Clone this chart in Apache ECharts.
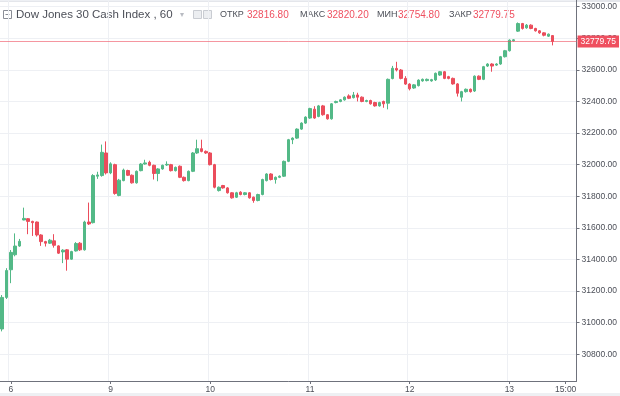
<!DOCTYPE html>
<html>
<head>
<meta charset="utf-8">
<script src="https://cdn.jsdelivr.net/npm/echarts@6/dist/echarts.min.js"></script>
<style>
html,body{margin:0;padding:0;background:#fff;}
#chart{width:620px;height:396px;}
</style>
</head>
<body>
<div id="chart"></div>
<script>
// ---- data ----
const title = 'Dow Jones 30 Cash Index , 60';
const headerLabels = ['ОТКР', 'МАКС', 'МИН', 'ЗАКР'];
const headerValues = ['32816.80', '32820.20', '32754.80', '32779.75'];
const lastPrice = 32779.75;

const days = ['5', '6', '9', '10', '11', '12', '13'];
const sessionHours = ['02:00','03:00','04:00','05:00','06:00','07:00','08:00','09:00','10:00','11:00','12:00',
  '13:00','14:00','15:00','16:00','17:00','18:00','19:00','20:00','21:00','22:00','23:00','00:00'];
const extraTimeLabel = '15:00';

const opens = [30960,31160,31335,31430,31485,31650,31658,31641,31637,31555,31513,31503,31518,31486,31448,31461,31402,31454,31503,31461,
  31637,31633,31927,31931,32074,31948,32000,31805,31899,31963,31933,31885,31962,32004,32015,31996,31944,31973,31998,32000,
  31962,31990,31920,31899,31958,32074,32101,32084,32074,32000,31836,31868,31853,31822,31794,31826,31811,31822,31794,31773,
  31811,31899,31941,31906,31920,31927,32021,32158,32168,32225,32263,32295,32351,32305,32372,32316,32290,32393,32400,32410,
  32435,32424,32441,32427,32400,32406,32393,32372,32400,32389,32545,32609,32599,32546,32510,32485,32500,32530,32532,32530,
  32536,32567,32588,32557,32546,32511,32427,32462,32477,32466,32560,32540,32624,32637,32630,32637,32683,32721,32784,32845,
  32893,32866,32883,32862,32847,32834,32813,32816.80];
const closes = [31160,31330,31445,31485,31515,31660,31641,31633,31555,31513,31503,31522,31490,31440,31459,31402,31450,31501,31461,31637,
  31625,31931,31935,32078,31948,32005,31818,31902,31966,31933,31885,31958,32004,32011,31996,31944,31973,31996,32002,31962,
  31983,31920,31899,31958,32074,32101,32084,32074,32000,31857,31857,31853,31822,31790,31822,31811,31822,31790,31773,31811,
  31906,31941,31906,31920,31927,32021,32158,32168,32225,32263,32301,32355,32295,32372,32316,32290,32385,32400,32410,32427,
  32420,32441,32427,32400,32406,32385,32372,32393,32385,32540,32610,32599,32546,32510,32480,32505,32535,32540,32540,32538,
  32578,32588,32546,32546,32511,32452,32462,32477,32462,32560,32540,32620,32637,32624,32637,32683,32721,32788,32790,32893,
  32862,32883,32862,32847,32834,32819,32826,32779.75];
const lows = [30945,31150,31250,31420,31480,31648,31560,31549,31545,31486,31482,31498,31475,31435,31377,31329,31398,31450,31454,31456,
  31618,31628,31910,31924,31938,31940,31810,31800,31895,31928,31880,31880,31958,32000,31990,31906,31895,31968,31992,31957,
  31957,31915,31893,31895,31953,32068,32078,32068,31995,31850,31830,31848,31817,31785,31789,31806,31806,31785,31759,31768,
  31806,31894,31900,31880,31915,31922,32016,32130,32163,32220,32258,32290,32290,32300,32310,32285,32285,32388,32395,32405,
  32415,32419,32400,32395,32395,32380,32367,32367,32360,32350,32540,32590,32540,32505,32470,32480,32495,32525,32527,32525,
  32530,32562,32541,32540,32506,32431,32400,32456,32456,32460,32535,32535,32618,32588,32625,32632,32678,32716,32779,32840,
  32855,32860,32857,32842,32828,32812,32808,32754.80];
const highs = [31175,31345,31460,31565,31530,31728,31662,31645,31640,31560,31518,31530,31560,31490,31465,31466,31455,31510,31510,31645,
  31760,31940,31955,32127,32147,32015,32006,31910,31975,31968,31938,31963,32010,32031,32025,32000,31978,32000,32021,32005,
  31988,31995,31925,31963,32080,32158,32158,32090,32080,32005,31862,31872,31858,31826,31828,31832,31827,31826,31798,31816,
  31911,31946,31946,31925,31932,32026,32163,32173,32230,32268,32306,32360,32370,32378,32378,32320,32390,32405,32415,32432,
  32445,32460,32455,32432,32411,32411,32398,32398,32405,32545,32625,32651,32605,32560,32515,32510,32540,32545,32545,32543,
  32583,32593,32593,32562,32551,32516,32467,32482,32482,32565,32565,32625,32642,32642,32642,32688,32726,32793,32795,32900,
  32897,32890,32888,32866,32852,32838,32830,32820.20];

// ---- categories (hourly bars, 23 per session) ----
const categories = [];
['23:00','00:00'].forEach(h => categories.push(days[0] + ' ' + h));
for (let d = 1; d < days.length - 1; d++) sessionHours.forEach(h => categories.push(days[d] + ' ' + h));
for (let k = 0; k < 16; k++) categories.push(days[days.length - 1] + ' ' + sessionHours[k]);

const candleData = opens.map((o, i) => [o, closes[i], lows[i], highs[i]]);

const isDayStart = v => v.split(' ')[1] === sessionHours[0];
const isExtra = v => v === days[days.length - 1] + ' ' + extraTimeLabel;

const UP = '#53b987', DOWN = '#eb4d5c';
const PRICE_LINE = 'rgba(239,80,96,0.6)';
const FONT = 'Liberation Sans, Arial, sans-serif';

const chart = echarts.init(document.getElementById('chart'), null, {renderer: 'canvas'});

const graphic = [
  {type: 'rect', shape: {x: 0, y: 0, width: 620, height: 2}, style: {fill: '#e4e6eb'}, silent: true},
  {type: 'rect', shape: {x: 0, y: 393, width: 620, height: 3}, style: {fill: '#eef0f3'}, silent: true},
  {type: 'rect', shape: {x: 3.5, y: 10.5, width: 8, height: 8}, style: {fill: 'none', stroke: '#8a8d96', lineWidth: 1}},
  {type: 'line', shape: {x1: 5.5, y1: 14.5, x2: 9.5, y2: 14.5}, style: {stroke: '#8a8d96', lineWidth: 1}},
  {type: 'text', x: 16, y: 15, style: {text: title, font: '11.5px ' + FONT, fill: '#4c4f58', textVerticalAlign: 'middle'}},
  {type: 'text', x: 180, y: 15, style: {text: '▾', font: '8px ' + FONT, fill: '#b8bbc2', textVerticalAlign: 'middle'}},
  {type: 'rect', shape: {x: 193.5, y: 10.5, width: 8, height: 8}, style: {fill: '#eceef1', stroke: '#c9ccd2', lineWidth: 1}},
  {type: 'rect', shape: {x: 203.5, y: 10.5, width: 8, height: 8}, style: {fill: '#eceef1', stroke: '#c9ccd2', lineWidth: 1}}
];
const labelX = [220, 300, 377, 449];
const valueX = [247, 327, 398, 473];
headerLabels.forEach((t, i) => {
  graphic.push({type: 'text', x: labelX[i], y: 15, style: {text: t, font: '9px ' + FONT, fill: '#4c4f58', textVerticalAlign: 'middle'}});
  graphic.push({type: 'text', x: valueX[i], y: 15, style: {text: headerValues[i], font: '10px ' + FONT, fill: '#ef5060', textVerticalAlign: 'middle'}});
});

chart.setOption({
  animation: false,
  backgroundColor: '#ffffff',
  textStyle: {fontFamily: FONT},
  grid: {left: 0, right: 43, top: 0, bottom: 15, containLabel: false},
  xAxis: {
    type: 'category',
    data: categories,
    boundaryGap: true,
    axisLine: {show: true, lineStyle: {color: '#6f727c', width: 1}},
    axisTick: {show: true, alignWithLabel: true, length: 3, lineStyle: {color: '#6f727c'},
      interval: (i, v) => isDayStart(v) || isExtra(v)},
    axisLabel: {
      interval: (i, v) => isDayStart(v) || isExtra(v),
      formatter: v => isExtra(v) ? extraTimeLabel : v.split(' ')[0],
      color: '#4c4f58', fontSize: 8.5, margin: 4
    },
    splitLine: {show: true, interval: (i, v) => isDayStart(v), lineStyle: {color: '#eef0f4', width: 1}}
  },
  yAxis: {
    type: 'value',
    position: 'right',
    min: 30631,
    max: 33042,
    splitNumber: 12,
    scale: true,
    axisLine: {show: true, lineStyle: {color: '#6f727c', width: 1}},
    axisTick: {show: true, length: 3, lineStyle: {color: '#6f727c'}},
    axisLabel: {
      showMinLabel: false, showMaxLabel: false,
      formatter: v => v.toFixed(2), color: '#4c4f58', fontSize: 8.5, margin: 5
    },
    splitLine: {show: true, lineStyle: {color: '#eef0f4', width: 1}}
  },
  series: [
    {
      type: 'candlestick',
      data: candleData,
      barWidth: 3,
      itemStyle: {color: UP, color0: DOWN, borderColor: UP, borderColor0: DOWN, borderWidth: 1},
      markLine: {
        silent: true,
        symbol: ['none', 'none'],
        precision: 2,
        lineStyle: {color: PRICE_LINE, width: 1, type: 'solid'},
        data: [{yAxis: lastPrice, lineStyle: {color: PRICE_LINE, width: 1, type: 'solid'}}],
        label: {
          show: true, position: 'end', distance: 1,
          formatter: () => lastPrice.toFixed(2),
          backgroundColor: '#ef4f5f', color: '#ffffff', fontSize: 8.5, padding: [2, 3, 1, 3]
        }
      }
    }
  ],
  graphic: graphic
});
</script>
</body>
</html>
